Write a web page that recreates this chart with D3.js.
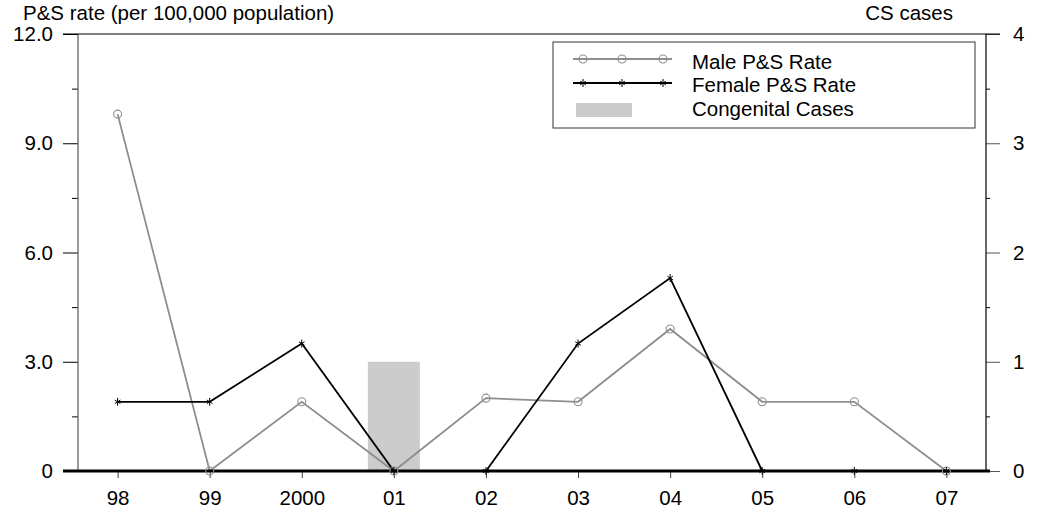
<!DOCTYPE html>
<html><head><meta charset="utf-8">
<script src="https://cdn.jsdelivr.net/npm/d3@7"></script>
<style>body{margin:0;background:#fff}svg{display:block}text{font-family:"Liberation Sans",Arial,sans-serif;}</style>
</head><body><svg id="c" width="1050" height="510"></svg>
<script>
const years = ["98","99","2000","01","02","03","04","05","06","07"];
const maleRate = [9.8,0,1.9,0,2.0,1.9,3.9,1.9,1.9,0];
const femaleRate = [1.9,1.9,3.5,0,0,3.5,5.3,0,0,0];
const csCases = [0,0,0,1,0,0,0,0,0,0];
const leftTicks = [0,3,6,9,12];
const rightTicks = [0,1,2,3,4];

const svg = d3.select("#c");
const L=78, R=986, T=34, B=471;
const x = d3.scalePoint().domain(years).range([L,R]).padding(0.43);
const y = d3.scaleLinear().domain([0,12]).range([B,T]);
const y2 = d3.scaleLinear().domain([0,4]).range([B,T]);
const fs = 20.5;
const maleCol = "#8e8e8e";

// bars
svg.selectAll("rect.bar").data(years.map((d,i)=>({d,v:csCases[i]})).filter(o=>o.v>0))
  .enter().append("rect").attr("fill","#cccccc")
  .attr("x",o=>x(o.d)-26).attr("width",52)
  .attr("y",o=>y2(o.v)).attr("height",o=>B-y2(o.v));

// left axis
const la = svg.append("g").attr("transform",`translate(${L},0)`)
  .call(d3.axisLeft(y).tickValues(leftTicks).tickSize(15).tickFormat(d=>d===0?"0":d3.format(".1f")(d)));
la.select(".domain").remove();
la.selectAll("line").attr("stroke","#000");
la.selectAll("text").attr("font-size",fs).attr("fill","#000").attr("x",-25).attr("font-family","Liberation Sans, Arial, sans-serif");
const lm = svg.append("g").attr("transform",`translate(${L},0)`)
  .call(d3.axisLeft(y).tickValues([1.5,4.5,7.5,10.5]).tickSize(6).tickFormat(""));
lm.select(".domain").remove();
svg.append("line").attr("x1",L).attr("x2",L).attr("y1",T).attr("y2",B).attr("stroke","#555").attr("stroke-width",1.2);

// right axis
const ra = svg.append("g").attr("transform",`translate(${R},0)`)
  .call(d3.axisRight(y2).tickValues(rightTicks).tickSize(14).tickFormat(d3.format("d")));
ra.select(".domain").remove();
ra.selectAll("line").attr("stroke","#555");
ra.selectAll("text").attr("font-size",fs).attr("fill","#000").attr("x",27).attr("font-family","Liberation Sans, Arial, sans-serif");
const rm = svg.append("g").attr("transform",`translate(${R},0)`)
  .call(d3.axisRight(y2).tickValues([0.5,1.5,2.5,3.5]).tickSize(4).tickFormat(""));
rm.select(".domain").remove();
svg.append("line").attr("x1",R).attr("x2",R).attr("y1",T).attr("y2",B).attr("stroke","#000").attr("stroke-width",1.2);

// top frame
svg.append("line").attr("x1",63).attr("x2",1000).attr("y1",T).attr("y2",T).attr("stroke","#000").attr("stroke-width",1.2);

// x axis
const xa = svg.append("g").attr("transform",`translate(0,${B})`)
  .call(d3.axisBottom(x).tickSize(7).tickPadding(12));
xa.select(".domain").remove();
xa.selectAll("line").attr("stroke","#444");
xa.selectAll("text").attr("font-size",fs).attr("fill","#000").attr("font-family","Liberation Sans, Arial, sans-serif");

// lines
const lineGen = d3.line().x(d=>x(d.k)).y(d=>y(d.v));
const male = years.map((k,i)=>({k,v:maleRate[i]}));
const female = years.map((k,i)=>({k,v:femaleRate[i]}));
svg.append("path").datum(male).attr("d",lineGen).attr("fill","none").attr("stroke",maleCol).attr("stroke-width",1.8);
svg.append("path").datum(female).attr("d",lineGen).attr("fill","none").attr("stroke","#000").attr("stroke-width",1.8);

// baseline thick
svg.append("line").attr("x1",63).attr("x2",990).attr("y1",B).attr("y2",B).attr("stroke","#000").attr("stroke-width",3.2);

function star(g,cx,cy,s){
  g.append("line").attr("x1",cx).attr("x2",cx).attr("y1",cy-s).attr("y2",cy+s).attr("stroke","#000").attr("stroke-width",1);
  g.append("line").attr("x1",cx-s*0.7).attr("x2",cx+s*0.7).attr("y1",cy-s*0.45).attr("y2",cy+s*0.45).attr("stroke","#000").attr("stroke-width",1);
  g.append("line").attr("x1",cx-s*0.7).attr("x2",cx+s*0.7).attr("y1",cy+s*0.45).attr("y2",cy-s*0.45).attr("stroke","#000").attr("stroke-width",1);
}
const mg = svg.append("g");
male.forEach(d=>mg.append("circle").attr("cx",x(d.k)).attr("cy",y(d.v)).attr("r",4).attr("fill","none").attr("stroke",maleCol).attr("stroke-width",1.1));
const fg = svg.append("g");
female.forEach(d=>star(fg,x(d.k),y(d.v),4));

// titles
svg.append("text").attr("x",23).attr("y",20).attr("font-size",fs).text("P&S rate (per 100,000 population)");
svg.append("text").attr("x",953).attr("y",20).attr("font-size",fs).attr("text-anchor","end").text("CS cases");

// legend
const lg = svg.append("g");
lg.append("rect").attr("x",553).attr("y",42).attr("width",422).attr("height",86).attr("fill","#fff").attr("stroke","#333").attr("stroke-width",1);
const rows=[59,83,110];
lg.append("line").attr("x1",573).attr("x2",672).attr("y1",rows[0]).attr("y2",rows[0]).attr("stroke",maleCol).attr("stroke-width",1.8);
[583,622,663].forEach(cx=>lg.append("circle").attr("cx",cx).attr("cy",rows[0]).attr("r",4).attr("fill","none").attr("stroke",maleCol).attr("stroke-width",1.1));
lg.append("line").attr("x1",573).attr("x2",672).attr("y1",rows[1]).attr("y2",rows[1]).attr("stroke","#000").attr("stroke-width",1.8);
[583,622,663].forEach(cx=>star(lg,cx,rows[1],4));
lg.append("rect").attr("x",576).attr("y",rows[2]-7).attr("width",56).attr("height",14).attr("fill","#cccccc");
["Male P&S Rate","Female P&S Rate","Congenital Cases"].forEach((t,i)=>
  lg.append("text").attr("x",692).attr("y",[69,92,116][i]).attr("font-size",fs).text(t));
</script></body></html>
